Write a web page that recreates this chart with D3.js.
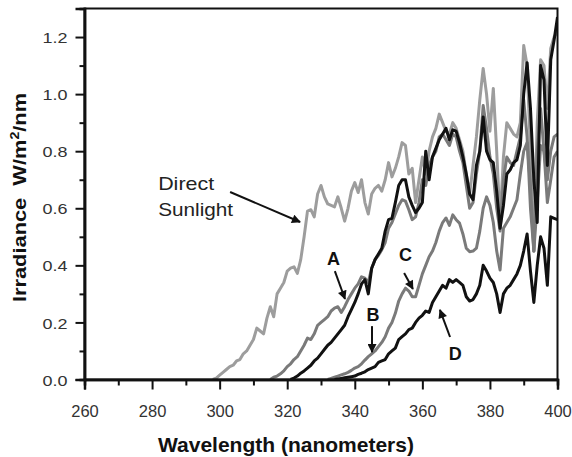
<!DOCTYPE html>
<html><head><meta charset="utf-8">
<script src="https://cdn.jsdelivr.net/npm/d3@7"></script>
<style>body{margin:0;background:#fff}svg{display:block}</style>
</head><body>
<script>
// ---- data (irradiance W/m2/nm, 1 nm steps starting at *Start) ----
const sunStart = 298;
const sunValues = [0,0.005,0.015,0.025,0.035,0.045,0.05,0.065,0.07,0.09,0.10,0.12,0.14,0.18,0.17,0.16,0.215,0.255,0.22,0.30,0.32,0.34,0.38,0.39,0.395,0.372,0.42,0.50,0.59,0.595,0.57,0.65,0.68,0.64,0.615,0.61,0.605,0.64,0.60,0.555,0.60,0.66,0.69,0.655,0.70,0.62,0.58,0.65,0.67,0.68,0.66,0.70,0.76,0.71,0.74,0.78,0.83,0.82,0.72,0.74,0.62,0.70,0.78,0.72,0.80,0.85,0.88,0.93,0.90,0.87,0.86,0.90,0.88,0.84,0.80,0.72,0.65,0.75,0.85,0.98,1.09,1.00,0.87,1.02,0.80,0.55,0.78,0.90,0.88,0.86,0.85,0.90,1.17,1.10,0.80,0.45,0.90,1.12,1.10,0.95,1.16,1.20,1.22];
const aStart = 315;
const aValues = [0,0.008,0.012,0.02,0.03,0.045,0.055,0.07,0.08,0.10,0.12,0.145,0.14,0.16,0.19,0.20,0.21,0.22,0.24,0.25,0.255,0.235,0.255,0.28,0.30,0.32,0.335,0.36,0.355,0.34,0.39,0.42,0.435,0.455,0.48,0.53,0.55,0.58,0.61,0.63,0.625,0.595,0.56,0.57,0.62,0.70,0.68,0.75,0.78,0.80,0.85,0.86,0.84,0.82,0.86,0.85,0.80,0.76,0.68,0.60,0.62,0.72,0.80,0.96,0.88,0.78,0.72,0.60,0.52,0.70,0.78,0.76,0.75,0.80,0.85,0.98,0.85,0.60,0.45,0.80,0.95,0.80,0.70,0.80,0.85,0.86];
const bStart = 321;
const bValues = [0,0.005,0.012,0.022,0.03,0.04,0.05,0.065,0.075,0.09,0.105,0.12,0.13,0.145,0.16,0.175,0.19,0.22,0.245,0.27,0.30,0.335,0.35,0.30,0.39,0.42,0.44,0.46,0.52,0.56,0.565,0.62,0.68,0.70,0.70,0.64,0.61,0.585,0.60,0.62,0.80,0.70,0.78,0.81,0.84,0.86,0.88,0.84,0.875,0.87,0.83,0.78,0.72,0.65,0.63,0.75,0.80,0.92,0.80,0.77,0.76,0.66,0.53,0.61,0.72,0.735,0.76,0.77,0.82,1.00,1.11,0.95,0.70,0.55,1.10,1.05,0.75,1.12,1.19,1.27];
const cStart = 332;
const cValues = [0,0.004,0.008,0.012,0.016,0.02,0.025,0.032,0.04,0.045,0.055,0.068,0.08,0.09,0.10,0.115,0.13,0.15,0.18,0.20,0.232,0.275,0.30,0.32,0.31,0.29,0.29,0.33,0.37,0.40,0.43,0.45,0.48,0.52,0.55,0.566,0.54,0.577,0.56,0.548,0.51,0.46,0.448,0.45,0.46,0.52,0.60,0.64,0.61,0.55,0.45,0.384,0.53,0.55,0.57,0.60,0.63,0.72,0.80,0.83,0.68,0.45,0.62,0.82,0.80,0.62,0.70,0.78,0.80];
const dStart = 334;
const dValues = [0,0.002,0.004,0.006,0.008,0.01,0.012,0.018,0.022,0.027,0.035,0.04,0.045,0.06,0.065,0.07,0.09,0.10,0.11,0.14,0.15,0.16,0.175,0.18,0.20,0.215,0.225,0.24,0.235,0.27,0.29,0.31,0.33,0.32,0.35,0.34,0.35,0.34,0.33,0.29,0.275,0.28,0.30,0.33,0.40,0.38,0.355,0.34,0.30,0.235,0.30,0.32,0.33,0.35,0.37,0.40,0.45,0.51,0.38,0.27,0.40,0.50,0.46,0.33,0.57,0.565,0.56];

const xMajorTicks = [260,280,300,320,340,360,380,400];
const xMinorTicks = [270,290,310,330,350,370,390];
const yMajorTicks = [0,0.2,0.4,0.6,0.8,1.0,1.2];
const yMinorTicks = [0.1,0.3,0.5,0.7,0.9,1.1];

const seriesNames = ["Direct Sunlight","A","B","C","D"];
const seriesStarts = [sunStart,aStart,bStart,cStart,dStart];
const seriesValues = [sunValues,aValues,bValues,cValues,dValues];
const seriesColors = ["#9d9d9d","#7a7a7a","#111111","#7a7a7a","#111111"];

// annotations (data units)
const labelNames = ["A","B","C","D"];
const labelPos = [[333.7,0.401],[345.4,0.205],[355.0,0.415],[369.7,0.068]];
const arrows = [[303.1,0.657,323.8,0.552],[334.1,0.380,337.1,0.282],[345.1,0.187,345.1,0.096],[354.6,0.373,357.2,0.317],[368.2,0.149,365.2,0.244]];

// ---- drawing ----
const W = 572, H = 457;
const svg = d3.select("body").append("svg").attr("width",W).attr("height",H)
  .style("font-family","'Liberation Sans', Arial, Helvetica, sans-serif");

const x = d3.scaleLinear().domain([260,400]).range([84.5,557.5]);
const y = d3.scaleLinear().domain([0,1.3]).range([379.5,8.5]);

svg.append("defs").append("clipPath").attr("id","clip")
  .append("rect").attr("x",x(260)).attr("y",y(1.3)).attr("width",x(400)-x(260)).attr("height",y(0)-y(1.3));
const mk = svg.select("defs").append("marker").attr("id","arr")
  .attr("viewBox","0 0 10 10").attr("refX",9).attr("refY",5)
  .attr("markerWidth",11).attr("markerHeight",9).attr("markerUnits","userSpaceOnUse")
  .attr("orient","auto");
mk.append("path").attr("d","M0,0 L10,5 L0,10 Z").attr("fill","#111");

// lines
const line = d3.line().x(d=>x(d[0])).y(d=>y(d[1])).curve(d3.curveLinear);
const g = svg.append("g").attr("clip-path","url(#clip)");
const order = [0,1,3,2,4];
order.forEach(i=>{
  const pts = seriesValues[i].map((v,k)=>[seriesStarts[i]+k, v]);
  g.append("path").datum(pts).attr("d",line)
    .attr("fill","none").attr("stroke",seriesColors[i]).attr("stroke-width",3)
    .attr("stroke-linejoin","round");
});

// frame
svg.append("rect").attr("x",x(260)).attr("y",y(1.3)).attr("width",x(400)-x(260)).attr("height",y(0)-y(1.3))
  .attr("fill","none").attr("stroke","#111").attr("stroke-width",2);

// axes
const xAxis = svg.append("g").attr("transform",`translate(0,${y(0)})`)
  .call(d3.axisBottom(x).tickValues(xMajorTicks).tickFormat(d3.format("d")).tickSize(10).tickPadding(16));
const xMinor = svg.append("g").attr("transform",`translate(0,${y(0)})`)
  .call(d3.axisBottom(x).tickValues(xMinorTicks).tickFormat("").tickSize(6));
const yAxis = svg.append("g").attr("transform",`translate(${x(260)},0)`)
  .call(d3.axisLeft(y).tickValues(yMajorTicks).tickFormat(d3.format(".1f")).tickSize(9).tickPadding(8));
const yMinor = svg.append("g").attr("transform",`translate(${x(260)},0)`)
  .call(d3.axisLeft(y).tickValues(yMinorTicks).tickFormat("").tickSize(5));
[xAxis,xMinor,yAxis,yMinor].forEach(a=>{
  a.select(".domain").attr("stroke","#111").attr("stroke-width",2.5);
  a.selectAll(".tick line").attr("stroke","#111").attr("stroke-width",2);
  a.selectAll(".tick text").attr("fill","#333").style("font-size","16.5px")
    .style("font-family","'Liberation Sans', Arial, sans-serif");
});
yAxis.selectAll(".tick text").attr("dy","0.36em").style("font-size","15.5px")
  .attr("textLength",25).attr("lengthAdjust","spacingAndGlyphs");

// axis titles
svg.append("text").attr("x",286).attr("y",452).attr("text-anchor","middle")
  .style("font-size","21px").style("font-weight","bold").attr("fill","#111")
  .text("Wavelength (nanometers)");
const yt = svg.append("text").attr("transform","translate(25.5,197.5) rotate(-90) scale(1.18,1)")
  .attr("text-anchor","middle").style("font-size","18.5px").style("font-weight","bold")
  .style("white-space","pre").attr("xml:space","preserve").attr("fill","#111");
yt.append("tspan").text("Irradiance  W/m");
yt.append("tspan").attr("dy",-7).style("font-size","12px").text("2");
yt.append("tspan").attr("dy",7).text("/nm");

// annotations
svg.append("text").attr("x",x(281.8)).attr("y",y(0.664)).style("font-size","19px").attr("fill","#222")
  .attr("textLength",56).attr("lengthAdjust","spacingAndGlyphs").text("Direct");
svg.append("text").attr("x",x(281.8)).attr("y",y(0.573)).style("font-size","19px").attr("fill","#222")
  .attr("textLength",75).attr("lengthAdjust","spacingAndGlyphs").text("Sunlight");
labelNames.forEach((n,i)=>{
  svg.append("text").attr("x",x(labelPos[i][0])).attr("y",y(labelPos[i][1]))
    .attr("text-anchor","middle").style("font-size","18px").style("font-weight","bold").attr("fill","#111").text(n);
});
arrows.forEach(a=>{
  svg.append("line").attr("x1",x(a[0])).attr("y1",y(a[1])).attr("x2",x(a[2])).attr("y2",y(a[3]))
    .attr("stroke","#111").attr("stroke-width",2).attr("marker-end","url(#arr)");
});
</script>
</body></html>
